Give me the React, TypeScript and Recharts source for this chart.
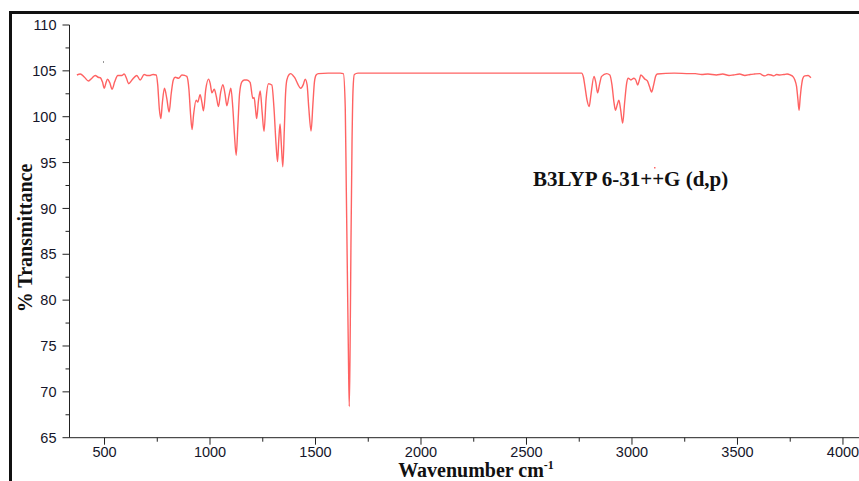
import { Line, LineChart, XAxis, YAxis } from 'recharts';

// spectrum (cm-1, % transmittance)
const wavenumber = [
	369, 385, 405, 424, 440, 456, 470, 480, 490, 499, 507, 514, 525, 536, 548, 563, 582, 593, 604, 614,
	630, 653, 669, 688, 700, 716, 730, 745, 752, 760, 767, 774, 784, 795, 806, 816, 826, 835, 851, 867,
	880, 890, 900, 908, 915, 922, 934, 942, 953, 962, 969, 980, 993, 1001, 1009, 1020, 1030, 1040, 1050, 1061,
	1071, 1080, 1090, 1099, 1108, 1116, 1124, 1132, 1140, 1151, 1163, 1175, 1190, 1203, 1209, 1215, 1221, 1230, 1238, 1247,
	1256, 1266, 1277, 1293, 1303, 1313, 1320, 1326, 1332, 1338, 1345, 1352, 1358, 1364, 1375, 1383, 1393, 1403, 1415, 1430,
	1442, 1451, 1460, 1468, 1479, 1488, 1495, 1503, 1514, 1560, 1617, 1632, 1641, 1646, 1651, 1656, 1660, 1664, 1668, 1673,
	1678, 1684, 1701, 2000, 2400, 2761, 2770, 2777, 2787, 2797, 2806, 2820, 2828, 2837, 2846, 2856, 2880, 2895, 2905, 2915,
	2922, 2930, 2938, 2946, 2956, 2965, 2975, 2982, 2995, 3009, 3018, 3027, 3035, 3042, 3061, 3073, 3083, 3093, 3103, 3112,
	3120, 3200, 3274, 3300, 3330, 3360, 3400, 3430, 3460, 3480, 3510, 3535, 3560, 3580, 3606, 3620, 3630, 3645, 3660, 3672,
	3685, 3700, 3720, 3735, 3750, 3764, 3772, 3780, 3786, 3792, 3797, 3803, 3810, 3819, 3835, 3848,
];

const transmittance = [
	104.55, 104.65, 104.3, 103.9, 104.2, 104.5, 104.3, 104.25, 103.8, 103.1, 103.7, 104.1, 103.7, 103.0, 103.8, 104.5, 104.5, 104.65, 104.2, 103.6,
	104.0, 104.5, 104.0, 104.6, 104.5, 104.5, 104.6, 104.55, 103.5, 100.8, 99.8, 101.5, 103.1, 102.0, 100.5, 102.5, 104.0, 104.3, 104.2, 104.55,
	104.5, 104.4, 103.0, 100.2, 98.6, 100.2, 101.8, 101.6, 102.4, 101.5, 100.65, 103.0, 104.1, 103.6, 102.6, 103.0, 102.2, 101.1, 102.6, 103.5,
	102.5, 101.2, 102.3, 103.1, 101.0, 98.0, 95.8, 99.0, 102.5, 103.8, 104.0, 104.0, 103.75, 102.0, 102.1, 101.0, 99.8, 101.8, 102.8, 100.5,
	98.4, 102.0, 103.6, 103.45, 101.0, 97.0, 95.1, 97.5, 99.2, 97.0, 94.55, 98.5, 102.5, 104.0, 104.6, 104.7, 104.5, 104.2, 103.6, 103.1,
	103.5, 104.1, 103.5, 101.0, 98.45, 101.5, 103.8, 104.55, 104.7, 104.75, 104.75, 104.7, 101.0, 92.0, 83.0, 74.0, 68.4, 75.0, 86.0, 97.0,
	103.0, 104.6, 104.75, 104.75, 104.75, 104.75, 104.3, 103.3, 101.8, 101.1, 102.5, 104.4, 103.8, 102.6, 103.5, 104.4, 104.7, 104.55, 103.5, 101.5,
	100.7, 101.3, 101.8, 100.8, 99.3, 101.5, 103.7, 104.2, 104.0, 104.2, 104.0, 103.45, 104.0, 104.55, 104.1, 103.9, 103.3, 102.7, 103.5, 104.4,
	104.65, 104.75, 104.7, 104.7, 104.6, 104.65, 104.55, 104.65, 104.5, 104.55, 104.65, 104.5, 104.6, 104.65, 104.7, 104.5, 104.45, 104.6, 104.55, 104.45,
	104.6, 104.55, 104.6, 104.65, 104.55, 104.35, 104.0, 103.3, 102.0, 100.7, 102.0, 103.3, 104.2, 104.45, 104.5, 104.25,
];

const xTicks = [500, 750, 1000, 1250, 1500, 1750, 2000, 2250, 2500, 2750, 3000, 3250, 3500, 3750, 4000];
const yTicks = [65, 67.5, 70, 72.5, 75, 77.5, 80, 82.5, 85, 87.5, 90, 92.5, 95, 97.5, 100, 102.5, 105, 107.5, 110];

const data = wavenumber.map((w, i) => ({ w, t: transmittance[i] }));

const axisColor = '#222';
const tickFont = { fontFamily: 'Liberation Sans, Arial, sans-serif', fontSize: 14.5, fill: '#15152a' };

// tick mark + label drawn together so minor ticks get no text
const XTick = (props: any) => {
	const { x, y, payload } = props;
	const major = payload.value % 500 === 0;
	return (
		<g>
			<line x1={x} y1={y} x2={x} y2={y + (major ? 7 : 4)} stroke={axisColor} />
			{major && (
				<text x={x} y={y + 19} textAnchor='middle' {...tickFont}>
					{payload.value}
				</text>
			)}
		</g>
	);
};

const YTick = (props: any) => {
	const { x, y, payload } = props;
	const major = payload.value % 5 === 0;
	return (
		<g>
			<line x1={x} y1={y} x2={x - (major ? 7 : 4)} y2={y} stroke={axisColor} />
			{major && (
				<text x={x - 13} y={y} dy='0.36em' textAnchor='end' {...tickFont}>
					{payload.value}
				</text>
			)}
		</g>
	);
};

const serif = 'Liberation Serif, Times New Roman, serif';

export default function App() {
	return (
		// fixed to the viewport so the page never gets scrollbars
		<div
			style={{
				position: 'fixed',
				left: 0,
				top: 0,
				width: 859,
				height: 481,
				overflow: 'hidden',
				background: '#fff',
			}}
		>
			{/* outer frame, only top and left edges are in view */}
			<div
				style={{
					position: 'absolute',
					left: 9,
					top: 11,
					width: 950,
					height: 600,
					borderTop: '3px solid #111',
					borderLeft: '3px solid #111',
				}}
			/>
			<div style={{ position: 'absolute', left: 8, top: 8 }}>
				<LineChart
					width={851}
					height={480}
					data={data}
					margin={{ top: 17, right: 0, bottom: 10.3, left: 0 }}
					style={{ overflow: 'visible' }}
				>
					<XAxis
						dataKey='w'
						type='number'
						domain={[334, 4076]}
						ticks={xTicks}
						interval={0}
						allowDataOverflow
						height={40}
						tickSize={0}
						tickMargin={0}
						tickLine={false}
						stroke={axisColor}
						tick={<XTick />}
					/>
					<YAxis
						type='number'
						domain={[65, 110]}
						ticks={yTicks}
						interval={0}
						allowDataOverflow
						width={61.5}
						tickSize={0}
						tickMargin={0}
						tickLine={false}
						stroke={axisColor}
						tick={<YTick />}
					/>
					<Line
						dataKey='t'
						type='monotone'
						stroke='#ff3b3b'
						strokeOpacity={0.8}
						strokeWidth={1.4}
						dot={false}
						isAnimationActive={false}
					/>
				</LineChart>
			</div>
			<svg width={859} height={481} style={{ position: 'absolute', left: 0, top: 0, pointerEvents: 'none' }}>
				<text
					transform='translate(24.5,238) rotate(-90)'
					textAnchor='middle'
					dominantBaseline='central'
					fontFamily={serif}
					fontWeight='bold'
					fontSize={20}
					fill='#111'
				>
					% Transmittance
				</text>
				<text x={476} y={477} textAnchor='middle' fontFamily={serif} fontWeight='bold' fontSize={20} fill='#111'>
					Wavenumber cm
					<tspan dy={-8} fontSize={12}>
						-1
					</tspan>
				</text>
				<text x={533} y={186} fontFamily={serif} fontWeight='bold' fontSize={21} fill='#111'>
					B3LYP 6-31++G (d,p)
				</text>
				<rect x={103} y={61.5} width={1} height={1} fill='#333' />
				<rect x={654} y={167} width={1.5} height={1.5} fill='#f66' />
			</svg>
		</div>
	);
}
